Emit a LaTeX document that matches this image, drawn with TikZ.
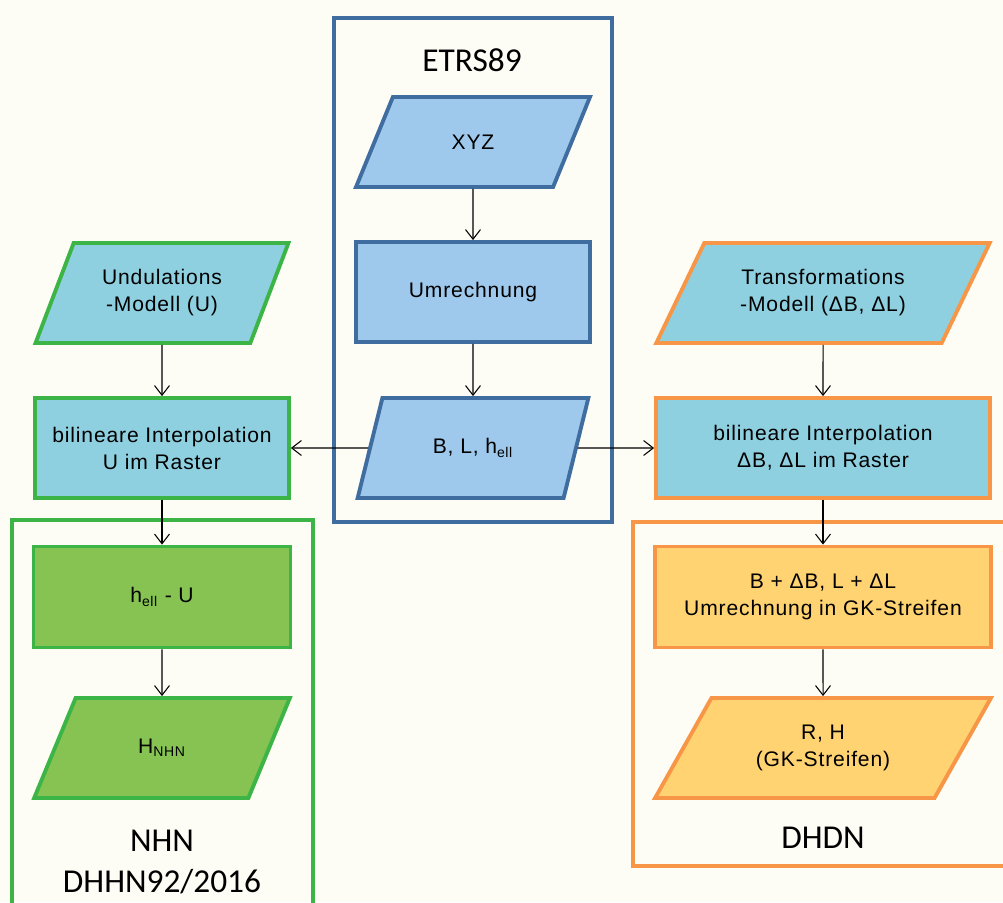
\documentclass[tikz,border=0pt]{standalone}
\usepackage{fontspec}
\setmainfont{Liberation Sans}
\newfontfamily\boxfont[LetterSpace=4]{Liberation Sans}
\newfontfamily\labelfont{Carlito}
\usetikzlibrary{shapes.geometric,arrows.meta}

\definecolor{bgcol}{HTML}{FDFCF5}
\definecolor{etrsline}{HTML}{3F6DA0}
\definecolor{etrsfill}{HTML}{9EC9EC}
\definecolor{modelfill}{HTML}{8ED0E0}
\definecolor{nhnline}{HTML}{3CB446}
\definecolor{nhnfill}{HTML}{86C352}
\definecolor{dhdnline}{HTML}{F79646}
\definecolor{dhdnfill}{HTML}{FFD272}

\begin{document}
\begin{tikzpicture}[
    x=0.02cm, y=-0.02cm,
    box/.style={rectangle, draw, line width=2.2pt, align=center, inner sep=2pt,
        font=\boxfont\fontsize{12}{15.4}\selectfont},
    io/.style={box, trapezium, trapezium left angle=#1, trapezium right angle={180-#1},
        trapezium stretches=true},
    frame/.style={line width=2.2pt},
    title/.style={align=center, font=\labelfont\fontsize{19}{22.8}\selectfont},
    flow/.style={-{Straight Barb[length=5.5pt,width=8.5pt]}, line width=0.6pt}
]

\useasboundingbox[fill=bgcol] (0,0) rectangle (1003,902);

% Frames
\draw[frame, etrsline] (334,18) rectangle (612,522);
\draw[frame, nhnline] (12,520) rectangle (313,930);
\draw[frame, dhdnline] (633,522) rectangle (1030,866);

% ETRS89 column
\node[title] (etrs) at (472,60) {ETRS89};
\node[io=62, draw=etrsline, fill=etrsfill, minimum width=4.7cm, minimum height=1.8cm] (xyz) at (473,142) {XYZ};
\node[box, draw=etrsline, fill=etrsfill, minimum width=4.68cm, minimum height=2cm] (umrechnung) at (473,292) {Umrechnung};
\node[io=65, draw=etrsline, fill=etrsfill, minimum width=4.64cm, minimum height=2cm] (blh) at (473,448) {B, L, h\textsubscript{ell}};

% NHN column
\node[io=63, draw=nhnline, fill=modelfill, minimum width=5.06cm, minimum height=2cm] (undulation) at (162,293) {Undulations\\-Modell (U)};
\node[box, draw=nhnline, fill=modelfill, minimum width=5.08cm, minimum height=2cm] (interpU) at (162,448) {bilineare Interpolation\\U im Raster};
\node[box, draw=nhnline, fill=nhnfill, minimum width=5.14cm, minimum height=2.02cm] (hellU) at (162,597) {h\textsubscript{ell} - U};
\node[io=62, draw=nhnline, fill=nhnfill, minimum width=5.14cm, minimum height=2cm] (hnhn) at (162,748) {H\textsubscript{NHN}};
\node[title] (nhn) at (162,862) {NHN\\DHHN92/2016};

% DHDN column
\node[io=57, draw=dhdnline, fill=modelfill, minimum width=6.68cm, minimum height=2cm] (trafo) at (823,293) {Transformations\\-Modell (ΔB, ΔL)};
\node[box, draw=dhdnline, fill=modelfill, minimum width=6.68cm, minimum height=2cm] (interpD) at (823,448) {bilineare Interpolation\\ΔB, ΔL im Raster};
\node[box, draw=dhdnline, fill=dhdnfill, minimum width=6.72cm, minimum height=2.02cm] (bdb) at (823,597) {B + ΔB, L + ΔL\\Umrechnung in GK-Streifen};
\node[io=56, draw=dhdnline, fill=dhdnfill, minimum width=6.72cm, minimum height=2cm] (rh) at (823,748) {R, H\\(GK-Streifen)};
\node[title] (dhdn) at (823,838) {DHDN};

% Arrows
\draw[flow] (xyz) -- (umrechnung);
\draw[flow] (umrechnung) -- (blh);
\draw[flow] (blh) -- (interpU);
\draw[flow] (blh) -- (interpD);
\draw[flow] (undulation) -- (interpU);
\draw[flow] (interpU) -- (hellU);
\draw[flow] (hellU) -- (hnhn);
\draw[flow] (trafo) -- (interpD);
\draw[flow] (interpD) -- (bdb);
\draw[flow] (bdb) -- (rh);

\end{tikzpicture}
\end{document}
